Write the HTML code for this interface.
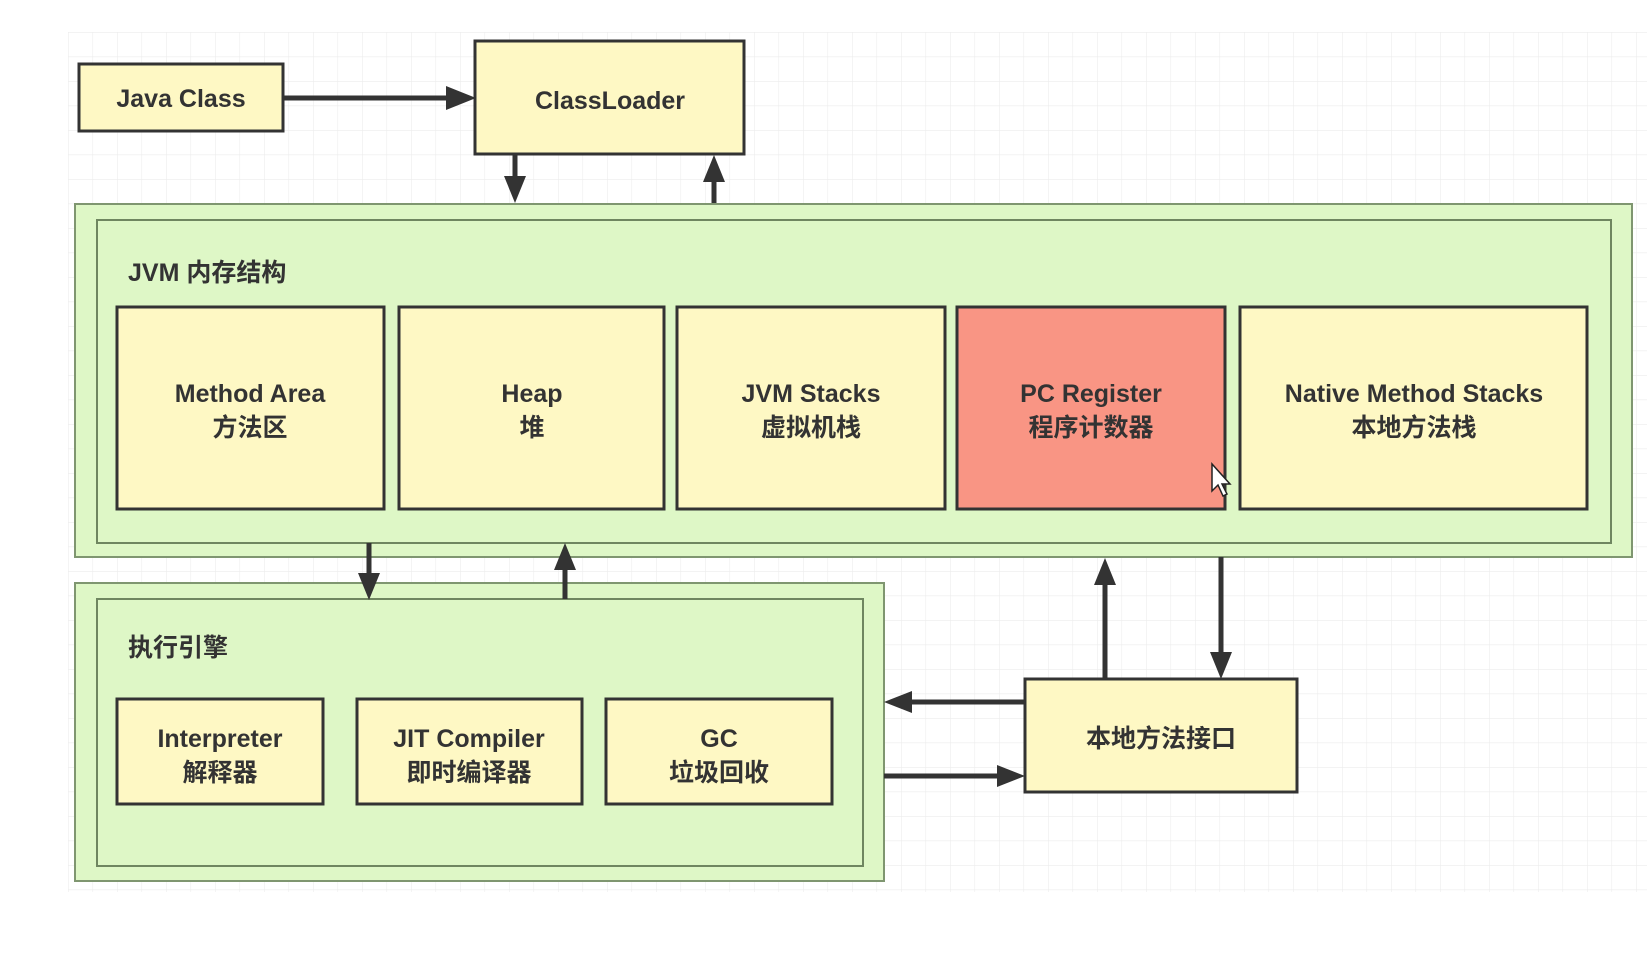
<!DOCTYPE html>
<html><head><meta charset="utf-8"><style>
html,body{margin:0;padding:0;background:#fff;}
svg{display:block;}
text{font-family:"Liberation Sans","Noto Sans CJK SC",sans-serif;font-weight:bold;fill:#333;}
</style></head><body>
<svg width="1647" height="958" viewBox="0 0 1647 958" xmlns="http://www.w3.org/2000/svg">
<defs>
<pattern id="g" x="68" y="32" width="24.5" height="24.5" patternUnits="userSpaceOnUse">
<path d="M0 0 H24.5 M0 0 V24.5" stroke="#ececec" stroke-width="1.2" fill="none"/>
</pattern>
</defs>
<rect x="68" y="32" width="1579" height="860" fill="url(#g)"/>

<rect x="79" y="64" width="204" height="67" fill="#fef8c4" stroke="#333" stroke-width="3"/>
<text x="181" y="107" font-size="25" text-anchor="middle">Java Class</text>
<rect x="475" y="41" width="269" height="113" fill="#fef8c4" stroke="#333" stroke-width="3"/>
<text x="610" y="109" font-size="25" text-anchor="middle">ClassLoader</text>

<rect x="75" y="204" width="1557" height="353" fill="#def7c6" stroke="#7f9670" stroke-width="2"/>
<rect x="97" y="220" width="1514" height="323" fill="#def7c6" stroke="#6f8660" stroke-width="2"/>
<text x="128" y="281" font-size="25">JVM 内存结构</text>

<rect x="117" y="307" width="267" height="202" fill="#fef8c4" stroke="#333" stroke-width="3"/>
<text x="250" y="402" font-size="25" text-anchor="middle">Method Area</text>
<text x="250" y="436" font-size="25" text-anchor="middle">方法区</text>

<rect x="399" y="307" width="265" height="202" fill="#fef8c4" stroke="#333" stroke-width="3"/>
<text x="532" y="402" font-size="25" text-anchor="middle">Heap</text>
<text x="532" y="436" font-size="25" text-anchor="middle">堆</text>

<rect x="677" y="307" width="268" height="202" fill="#fef8c4" stroke="#333" stroke-width="3"/>
<text x="811" y="402" font-size="25" text-anchor="middle">JVM Stacks</text>
<text x="811" y="436" font-size="25" text-anchor="middle">虚拟机栈</text>

<rect x="957" y="307" width="268" height="202" fill="#f99584" stroke="#333" stroke-width="3"/>
<text x="1091" y="402" font-size="25" text-anchor="middle">PC Register</text>
<text x="1091" y="436" font-size="25" text-anchor="middle">程序计数器</text>

<rect x="1240" y="307" width="347" height="202" fill="#fef8c4" stroke="#333" stroke-width="3"/>
<text x="1414" y="402" font-size="25" text-anchor="middle">Native Method Stacks</text>
<text x="1414" y="436" font-size="25" text-anchor="middle">本地方法栈</text>

<rect x="75" y="583" width="809" height="298" fill="#def7c6" stroke="#7f9670" stroke-width="2"/>
<rect x="97" y="599" width="766" height="267" fill="#def7c6" stroke="#6f8660" stroke-width="2"/>
<text x="128" y="656" font-size="25">执行引擎</text>

<rect x="117" y="699" width="206" height="105" fill="#fef8c4" stroke="#333" stroke-width="3"/>
<text x="220" y="747" font-size="25" text-anchor="middle">Interpreter</text>
<text x="220" y="781" font-size="25" text-anchor="middle">解释器</text>

<rect x="357" y="699" width="225" height="105" fill="#fef8c4" stroke="#333" stroke-width="3"/>
<text x="469" y="747" font-size="25" text-anchor="middle">JIT Compiler</text>
<text x="469" y="781" font-size="25" text-anchor="middle">即时编译器</text>

<rect x="606" y="699" width="226" height="105" fill="#fef8c4" stroke="#333" stroke-width="3"/>
<text x="719" y="747" font-size="25" text-anchor="middle">GC</text>
<text x="719" y="781" font-size="25" text-anchor="middle">垃圾回收</text>

<rect x="1025" y="679" width="272" height="113" fill="#fef8c4" stroke="#333" stroke-width="3"/>
<text x="1161" y="747" font-size="25" text-anchor="middle">本地方法接口</text>

<g stroke="#333" stroke-width="5" fill="none">
<line x1="283" y1="98" x2="450" y2="98"/>
<line x1="515" y1="154" x2="515" y2="183"/>
<line x1="714" y1="203" x2="714" y2="176"/>
<line x1="369" y1="543" x2="369" y2="580"/>
<line x1="565" y1="599" x2="565" y2="565"/>
<line x1="1105" y1="679" x2="1105" y2="580"/>
<line x1="1221" y1="557" x2="1221" y2="655"/>
<line x1="1025" y1="702" x2="908" y2="702"/>
<line x1="884" y1="776" x2="1001" y2="776"/>
</g>
<g fill="#333">
<polygon points="476,98 446,86 446,110"/>
<polygon points="515,203 504,176 526,176"/>
<polygon points="714,155 703,182 725,182"/>
<polygon points="369,600 358,573 380,573"/>
<polygon points="565,543 554,570 576,570"/>
<polygon points="1105,558 1094,585 1116,585"/>
<polygon points="1221,679 1210,652 1232,652"/>
<polygon points="884,702 912,691 912,713"/>
<polygon points="1025,776 997,765 997,787"/>
</g>

<path d="M1212 464 L1212 491 L1218 485 L1223 496 L1227 494 L1222 484 L1230 484 Z" fill="#fff" stroke="#222" stroke-width="1.5"/>
</svg>
</body></html>
